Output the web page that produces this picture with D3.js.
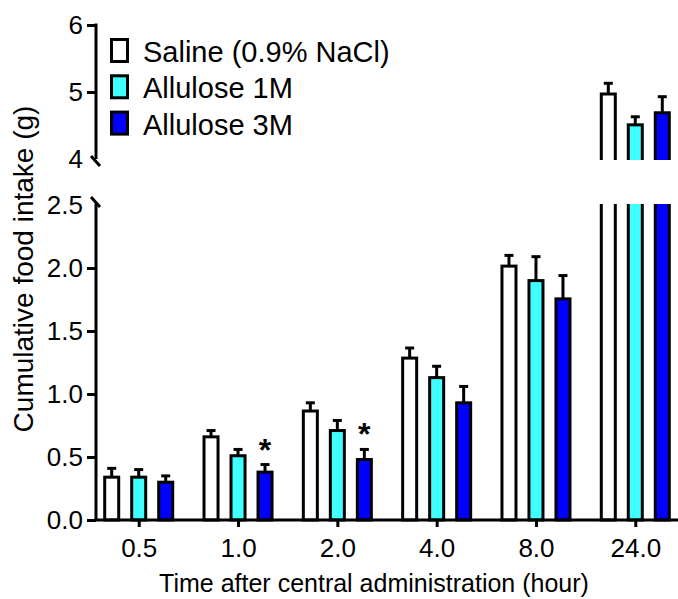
<!DOCTYPE html>
<html lang="en">
<head>
<meta charset="UTF-8">
<title>Cumulative food intake</title>
<script src="https://cdn.jsdelivr.net/npm/d3@7"></script>
<style>
  body { margin: 0; background: #fff; }
  svg { display: block; font-family: "Liberation Sans", Arial, sans-serif; }
</style>
</head>
<body>
<svg id="chart" width="678" height="599"></svg>
<script>
// values (g), mean and upper SEM
var times = ["0.5", "1.0", "2.0", "4.0", "8.0", "24.0"];
var series = ["Saline (0.9% NaCl)", "Allulose 1M", "Allulose 3M"];
var colors = ["#ffffff", "#40ffff", "#0000ff"];
var saline = [0.34, 0.66, 0.865, 1.285, 2.015, 4.97];
var salineSem = [0.07, 0.05, 0.065, 0.08, 0.085, 0.16];
var allu1 = [0.34, 0.51, 0.71, 1.13, 1.90, 4.51];
var allu1Sem = [0.06, 0.05, 0.08, 0.09, 0.19, 0.12];
var allu3 = [0.30, 0.38, 0.48, 0.93, 1.755, 4.69];
var allu3Sem = [0.05, 0.06, 0.08, 0.13, 0.185, 0.24];
var starTimes = ["1.0", "2.0"];  // significant vs saline, 3M group
var lowTicks = [0, 0.5, 1.0, 1.5, 2.0, 2.5];
var highTicks = [4, 5, 6];

var means = [saline, allu1, allu3];
var sems = [salineSem, allu1Sem, allu3Sem];

var svg = d3.select("#chart");
var axisX = 96;

var x = d3.scalePoint().domain(times).range([axisX, 678]).padding(0.43);
var xSub = d3.scaleBand().domain(series).range([-40.5, 40.5])
  .paddingInner(0.37).paddingOuter(0.185);
var yLow = d3.scaleLinear().domain([0, 2.5]).range([520, 205]);
var yHigh = d3.scaleLinear().domain([4, 6]).range([159, 25]);
function yOf(v) { return v > 2.5 ? yHigh(v) : yLow(v); }

var rows = [];
times.forEach(function (t, i) {
  series.forEach(function (s, j) {
    rows.push({ time: t, name: s, color: colors[j], v: means[j][i], e: sems[j][i] });
  });
});

// clip regions for the two axis segments
var defs = svg.append("defs");
defs.append("clipPath").attr("id", "clipHigh")
  .append("rect").attr("x", 0).attr("y", 0).attr("width", 678).attr("height", yHigh(4) + 1);
defs.append("clipPath").attr("id", "clipLow")
  .append("rect").attr("x", 0).attr("y", yLow(2.5) - 1).attr("width", 678).attr("height", 330);

var bw = xSub.bandwidth();
["clipHigh", "clipLow"].forEach(function (c) {
  svg.append("g").attr("clip-path", "url(#" + c + ")")
    .selectAll("rect").data(rows).enter().append("rect")
      .attr("x", function (d) { return x(d.time) + xSub(d.name) + 1.5; })
      .attr("y", function (d) { return yOf(d.v); })
      .attr("width", bw - 3)
      .attr("height", function (d) { return yLow(0) - yOf(d.v); })
      .attr("fill", function (d) { return d.color; })
      .attr("stroke", "#000")
      .attr("stroke-width", 3);
});

// error bars (upper only)
var err = svg.append("g").attr("stroke", "#000").attr("stroke-width", 3);
rows.forEach(function (d) {
  var cx = x(d.time) + xSub(d.name) + bw / 2;
  err.append("line").attr("x1", cx).attr("x2", cx)
    .attr("y1", yOf(d.v)).attr("y2", yOf(d.v + d.e));
  err.append("line").attr("x1", cx - 4.5).attr("x2", cx + 4.5)
    .attr("y1", yOf(d.v + d.e)).attr("y2", yOf(d.v + d.e));
});

// asterisks
rows.filter(function (d) { return d.name === series[2] && starTimes.indexOf(d.time) > -1; })
  .forEach(function (d) {
    svg.append("text")
      .attr("x", x(d.time) + xSub(d.name) + bw / 2)
      .attr("y", yOf(d.v + d.e) - 4)
      .attr("text-anchor", "middle")
      .attr("font-size", 32).attr("font-weight", "bold")
      .text("*");
  });

// x axis
var gx = svg.append("g").attr("transform", "translate(0," + yLow(0) + ")")
  .call(d3.axisBottom(x).tickSize(7).tickPadding(12));
gx.select(".domain").remove();
gx.selectAll(".tick line").attr("stroke-width", 3);
gx.selectAll(".tick text").attr("font-size", 26).attr("font-family", null).attr("fill", "#000");
svg.append("line").attr("x1", axisX - 1.5).attr("x2", 678)
  .attr("y1", yLow(0)).attr("y2", yLow(0))
  .attr("stroke", "#000").attr("stroke-width", 3);

// y axis, two segments with break marks
function drawY(scale, ticks, fmt, breakVal, topVal, bottomVal) {
  var g = svg.append("g").attr("transform", "translate(" + axisX + ",0)")
    .call(d3.axisLeft(scale).tickValues(ticks).tickFormat(fmt).tickSize(9).tickPadding(4));
  g.select(".domain").remove();
  g.selectAll(".tick line").attr("stroke-width", 3)
    .filter(function (d) { return d === breakVal; }).remove();
  g.selectAll(".tick text").attr("font-size", 26).attr("font-family", null).attr("fill", "#000");
  svg.append("line").attr("x1", axisX).attr("x2", axisX)
    .attr("y1", scale(topVal) - 1.5).attr("y2", scale(bottomVal))
    .attr("stroke", "#000").attr("stroke-width", 3);
  var by = scale(breakVal) + (breakVal === 4 ? 2 : -3);
  svg.append("line").attr("x1", axisX - 5).attr("x2", axisX + 4)
    .attr("y1", by - 5).attr("y2", by + 5)
    .attr("stroke", "#000").attr("stroke-width", 3);
}
drawY(yHigh, highTicks, d3.format("d"), 4, 6, 4);
drawY(yLow, lowTicks, d3.format(".1f"), 2.5, 2.5, 0);

// legend
var leg = svg.append("g");
series.forEach(function (s, j) {
  var ly = 39.5 + j * 36.3;
  leg.append("rect").attr("x", 111.5).attr("y", ly).attr("width", 16).attr("height", 22)
    .attr("fill", colors[j]).attr("stroke", "#000").attr("stroke-width", 3);
  leg.append("text").attr("x", 143).attr("y", ly + 22.5)
    .attr("font-size", 29).text(s);
});

// axis titles
svg.append("text").attr("x", 374).attr("y", 592)
  .attr("text-anchor", "middle").attr("font-size", 25)
  .text("Time after central administration (hour)");
svg.append("text")
  .attr("transform", "translate(33,269) rotate(-90)")
  .attr("text-anchor", "middle").attr("font-size", 28)
  .text("Cumulative food intake (g)");
</script>
</body>
</html>
